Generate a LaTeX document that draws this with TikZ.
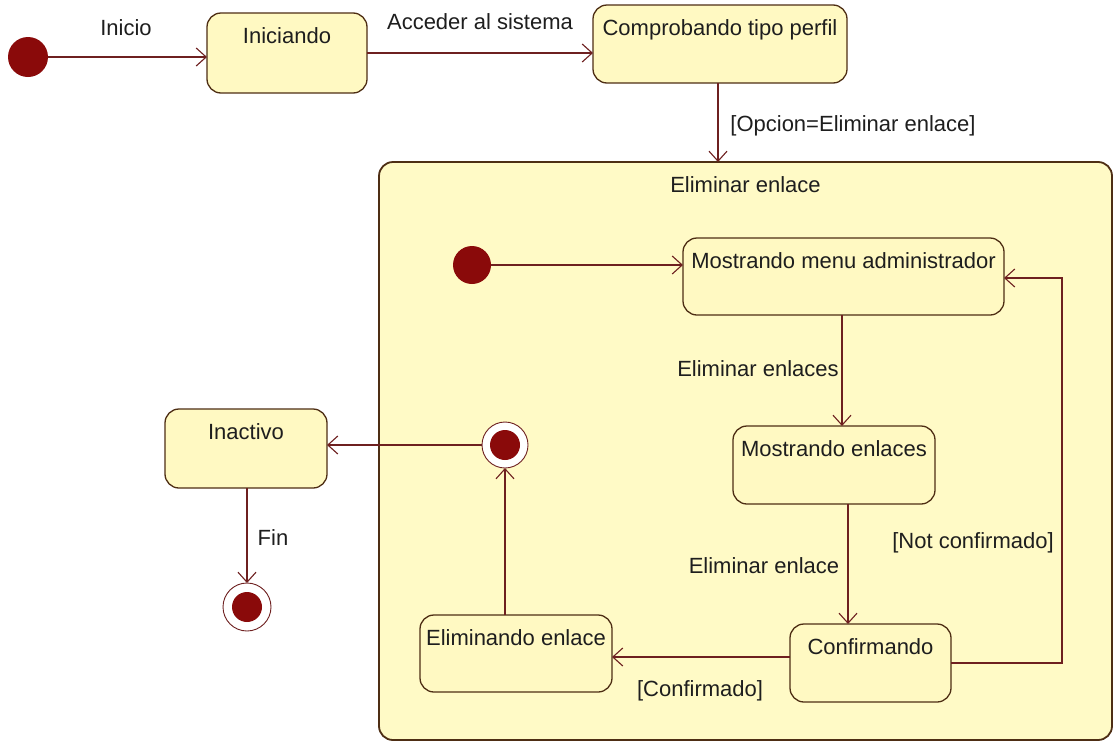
\documentclass[tikz,border=0pt]{standalone}
\usepackage{fontspec}
\setmainfont{Liberation Sans}
\usetikzlibrary{arrows.meta}
\definecolor{boxfill}{HTML}{FFF9C2}
\definecolor{cmpfill}{HTML}{FFFAC6}
\definecolor{boxdraw}{HTML}{4E2E14}
\definecolor{linec}{HTML}{6E2020}
\definecolor{dotc}{HTML}{8A0A0A}
\definecolor{txt}{HTML}{1E1E1E}
\tikzset{
  st/.style={rectangle, rounded corners=14pt, draw=boxdraw, fill=boxfill, line width=1.3pt, inner sep=0pt, outer sep=0pt},
  stl/.style={anchor=base, yshift=-30pt, text=txt, font=\fontsize{22}{24}\selectfont, inner sep=0pt},
  tr/.style={draw=linec, line width=1.3pt, -{Straight Barb[length=10pt,width=18pt,line width=1.1pt]}},
  initst/.style={circle, fill=dotc, inner sep=0pt, outer sep=0pt},
  finst/.style={circle, draw=linec, line width=0.9pt, fill=white, inner sep=0pt, outer sep=0pt, minimum size=46pt,
    path picture={\fill[dotc] (path picture bounding box.center) circle (15pt);}},
  lbl/.style={anchor=base, text=txt, font=\fontsize{22}{24}\selectfont, inner sep=0pt}
}
\begin{document}
\begin{tikzpicture}[x=1pt,y=-1pt]
\fill[white] (0,0) rectangle (1114,742);
\useasboundingbox (0,0) rectangle (1114,742);
% composite state
\node[st, fill=cmpfill, line width=1.8pt, minimum width=733pt, minimum height=578pt,
      label={[stl]north:Eliminar enlace}] (cmp) at (745.5,451) {};
% top states
\node[initst, minimum size=40pt] (i1) at (28,57) {};
\node[st, minimum width=160pt, minimum height=80pt, label={[stl]north:Iniciando}] (ini) at (287,53) {};
\node[st, minimum width=254pt, minimum height=78pt, label={[stl]north:Comprobando tipo perfil}] (comp) at (720,44) {};
% inner states
\node[initst, minimum size=38pt] (i2) at (472,265) {};
\node[st, minimum width=321pt, minimum height=77pt, label={[stl]north:Mostrando menu administrador}] (menu) at (843.5,276.5) {};
\node[st, minimum width=202pt, minimum height=78pt, label={[stl]north:Mostrando enlaces}] (enl) at (834,465) {};
\node[st, minimum width=161pt, minimum height=78pt, label={[stl]north:Confirmando}] (conf) at (870.5,663) {};
\node[st, minimum width=192pt, minimum height=77pt, label={[stl]north:Eliminando enlace}] (elim) at (516,653.5) {};
\node[finst] (ff1) at (505,445) {};
% outside states
\node[st, minimum width=162pt, minimum height=79pt, label={[stl]north:Inactivo}] (inac) at (246,448.5) {};
\node[finst, minimum size=48pt] (ff2) at (247,607) {};
\coordinate (lp) at (1062,278);
% transitions
\draw[tr] (i1.east) -- (i1.east -| ini.west);
\draw[tr] (ini.east) -- (ini.east -| comp.west);
\draw[tr] (comp.south -| 718,0) -- (cmp.north -| 718,0);
\draw[tr] (i2.east) -- (i2.east -| menu.west);
\draw[tr] (menu.south -| 842,0) -- (enl.north -| 842,0);
\draw[tr] (enl.south -| 848,0) -- (conf.north -| 848,0);
\draw[tr] (conf.east) -| (lp) -- (lp -| menu.east);
\draw[tr] ([yshift=6pt]conf.west) -- ([yshift=6pt]conf.west -| elim.east);
\draw[tr] (elim.north -| ff1.south) -- (ff1.south);
\draw[tr] (ff1.west) -- (ff1.west -| inac.east);
\draw[tr] (inac.south -| ff2.north) -- (ff2.north);
% labels
\node[lbl] (l1) at (126,35) {Inicio};
\node[lbl] (l2) at (480,29) {Acceder al sistema};
\node[lbl] (l3) at (853,131) {[Opcion=Eliminar enlace]};
\node[lbl] (l4) at (758,376) {Eliminar enlaces};
\node[lbl] (l5) at (764,573) {Eliminar enlace};
\node[lbl] (l6) at (973,548) {[Not confirmado]};
\node[lbl] (l7) at (700,696) {[Confirmado]};
\node[lbl] (l8) at (273,545) {Fin};
\end{tikzpicture}
\end{document}
